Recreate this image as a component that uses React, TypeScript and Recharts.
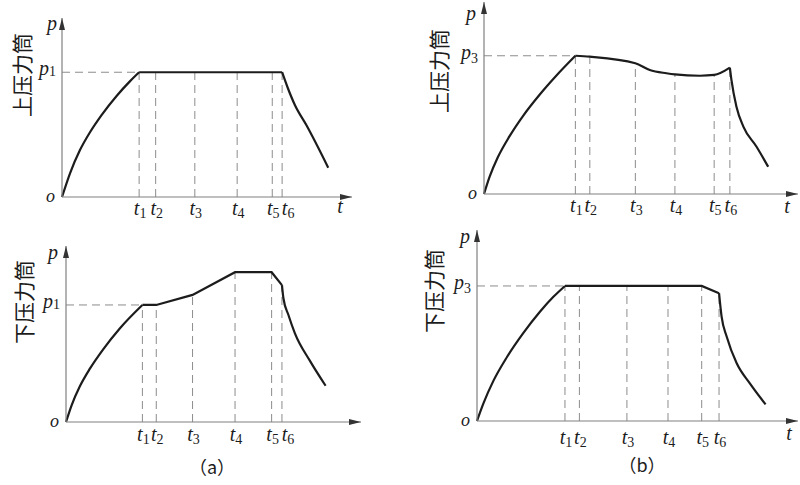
import { LineChart, Line, XAxis, YAxis, ReferenceLine, ReferenceDot } from "recharts";

// pressure curves, time and pressure in % of the axis length (arrow tip = 100)

// (a) 上压力筒
const aUpTime = [0, 2.8, 6.2, 9.7, 13.7, 18.9, 23.4, 77.7, 80.3, 84.4, 91.8];
const aUpPressure = [0, 13.4, 26.2, 36.3, 45.9, 56.6, 64.6, 61.6, 51.4, 39.8, 16.4];
const aUpMarkTime = [26.6, 32.3, 45.8, 60.4, 72.5, 75.9];
const aUpMarkPressure = [69.7, 69.7, 69.7, 69.7, 69.7, 69.7];

// (a) 下压力筒
const aDownTime = [0, 1.9, 4.7, 8.1, 12.6, 18.3, 73.7, 75.4, 77.6, 82.7, 88.0];
const aDownPressure = [0, 9.5, 20.3, 30.3, 41.3, 53.3, 70.3, 60.8, 50.4, 34.7, 20.6];
const aDownMarkTime = [25.9, 30.6, 42.9, 57.3, 69.7, 73.2];
const aDownMarkPressure = [66.5, 66.5, 72.2, 85.1, 85.1, 77.8];

// (b) 上压力筒
const bUpTime = [0, 1.8, 4.4, 8.1, 12.4, 17.7, 23.0, 52.8, 58.1, 68.8, 78.8, 80.4, 82.6, 86.8, 90.5];
const bUpPressure = [0, 9.0, 19.1, 30.0, 40.6, 51.7, 61.6, 64.6, 62.9, 61.6, 59.4, 45.5, 35.1, 24.6, 14.2];
const bUpMarkTime = [29.1, 33.7, 48.2, 60.8, 73.3, 78.3];
const bUpMarkPressure = [72.0, 71.5, 68.1, 62.3, 62.0, 65.8];

// (b) 下压力筒
const bDownTime = [0, 2.0, 5.1, 9.3, 14.4, 19.6, 23.8, 76.2, 77.8, 80.9, 85.0, 89.9];
const bDownPressure = [0, 9.2, 21.0, 33.4, 46.0, 57.2, 65.0, 54.6, 44.1, 30.2, 19.7, 8.7];
const bDownMarkTime = [27.4, 31.9, 46.7, 59.5, 70.0, 75.4];
const bDownMarkPressure = [70.7, 70.7, 70.7, 70.7, 70.7, 66.9];

const SERIF = "'Liberation Serif', 'DejaVu Serif', serif";
const CJK = "'Noto Sans CJK SC', 'Noto Sans CJK JP', sans-serif";
const INK = "#1c1c1c";
const AXIS = "#808080";
const DASH = "#8c8c8c";

type Layout = {
  left: number;
  top: number;
  width: number;
  height: number;
  yw: number;
  mt: number;
  mr: number;
  xh: number;
  titleDx: number;
  titleDy: number;
  pDx: number;
  pDy: number;
  tickDy: number;
  tNameDx?: number;
  tNameDy?: number;
  capDx?: number;
  capDy?: number;
};

const arrowUp = (props: any) => (
  <path d={`M${props.cx},${props.cy} L${props.cx - 3},${props.cy + 12} L${props.cx + 3},${props.cy + 12} Z`} fill="#333" />
);
const arrowRight = (props: any) => (
  <path d={`M${props.cx},${props.cy} L${props.cx - 12},${props.cy - 3} L${props.cx - 12},${props.cy + 3} Z`} fill="#333" />
);

function Panel(props: {
  layout: Layout;
  time: number[];
  pressure: number[];
  markTime: number[];
  markPressure: number[];
  levelSub: string;
  title: string;
  holdCurve: "linear" | "monotone";
  caption?: string;
}) {
  const { layout, time, pressure, markTime, markPressure, levelSub, title, holdCurve, caption } = props;
  const level = markPressure[0];
  const first = markTime[0];
  const last = markTime[markTime.length - 1];
  // split the curve at t1 and t6 so the corners stay sharp
  const data = [
    ...time.map((t, i) => ({ t, p: pressure[i] })),
    ...markTime.map((t, i) => ({ t, p: markPressure[i] })),
  ]
    .sort((a, b) => a.t - b.t)
    .map((d) => ({
      t: d.t,
      rise: d.t <= first ? d.p : null,
      hold: d.t >= first && d.t <= last ? d.p : null,
      fall: d.t >= last ? d.p : null,
    }));

  const xTick = (tp: any) => {
    const i = markTime.indexOf(tp.payload.value);
    const close = i > 0 && markTime[i] - markTime[i - 1] < 4;
    return (
      <text x={tp.x + (close ? 6 : 1)} y={tp.y + layout.tickDy} textAnchor="middle" fontFamily={SERIF} fill={INK}>
        <tspan fontStyle="italic" fontSize={20}>t</tspan>
        <tspan fontSize={14} dy={3}>{i + 1}</tspan>
      </text>
    );
  };

  const yTick = (tp: any) => {
    if (tp.payload.value === 0) {
      return (
        <text x={tp.x - 7} y={tp.y + 5} textAnchor="end" fontFamily={SERIF} fontStyle="italic" fontSize={18} fill={INK}>
          o
        </text>
      );
    }
    return (
      <text x={tp.x - 6} y={tp.y + 3} textAnchor="end" fontFamily={SERIF} fill={INK}>
        <tspan fontStyle="italic" fontSize={20}>p</tspan>
        <tspan fontSize={14} dy={levelSub === "1" ? 1 : 4}>{levelSub}</tspan>
      </text>
    );
  };

  const yLabel = (lp: any) => {
    const vb = lp.viewBox;
    const x0 = vb.x + vb.width;
    return (
      <g>
        <text x={x0 + layout.pDx} y={vb.y + layout.pDy} textAnchor="end" fontFamily={SERIF} fontStyle="italic" fontSize={20} fill={INK}>
          p
        </text>
        <text
          transform={`translate(${x0 + layout.titleDx}, ${vb.y + layout.titleDy}) rotate(-90)`}
          textAnchor="middle"
          dominantBaseline="central"
          fontFamily={CJK}
          fontSize={21}
          fill={INK}
        >
          {title}
        </text>
      </g>
    );
  };

  const xLabel = (lp: any) => {
    const vb = lp.viewBox;
    return (
      <g>
        {layout.tNameDx !== undefined && (
          <text x={vb.x + layout.tNameDx} y={vb.y + (layout.tNameDy ?? 18)} textAnchor="middle" fontFamily={SERIF} fontStyle="italic" fontSize={20} fill={INK}>
            t
          </text>
        )}
        {caption && (
          <text x={vb.x + (layout.capDx ?? 0)} y={vb.y + (layout.capDy ?? 50)} textAnchor="middle" fontFamily={CJK} fontSize={18} fill={INK}>
            {caption}
          </text>
        )}
      </g>
    );
  };

  const lineProps = {
    stroke: INK,
    strokeWidth: 2.2,
    dot: false,
    activeDot: false,
    isAnimationActive: false,
    connectNulls: false,
  };

  return (
    <div style={{ position: "absolute", left: layout.left, top: layout.top }}>
      <LineChart
        width={layout.width}
        height={layout.height}
        data={data}
        margin={{ top: layout.mt, right: layout.mr, bottom: 0, left: 0 }}
      >
        <XAxis
          type="number"
          dataKey="t"
          domain={[0, 100]}
          ticks={markTime}
          interval={0}
          height={layout.xh}
          tickSize={0}
          tickMargin={0}
          tickLine={false}
          axisLine={{ stroke: AXIS, strokeWidth: 1.2 }}
          tick={xTick}
          label={xLabel}
        />
        <YAxis
          type="number"
          domain={[0, 100]}
          ticks={[0, level]}
          width={layout.yw}
          tickSize={0}
          tickMargin={0}
          tickLine={false}
          axisLine={{ stroke: AXIS, strokeWidth: 1.2 }}
          tick={yTick}
          label={yLabel}
        />
        <ReferenceLine
          segment={[{ x: 0, y: level }, { x: first, y: level }]}
          stroke={DASH}
          strokeDasharray="8 5"
        />
        {markTime.map((t, i) => (
          <ReferenceLine
            key={`m-${i}`}
            segment={[{ x: t, y: 0 }, { x: t, y: markPressure[i] }]}
            stroke={DASH}
            strokeDasharray="8 5"
          />
        ))}
        <ReferenceDot x={100} y={0} r={0} shape={arrowRight} />
        <ReferenceDot x={0} y={100} r={0} shape={arrowUp} />
        <Line type="monotone" dataKey="rise" {...lineProps} />
        <Line type={holdCurve} dataKey="hold" {...lineProps} />
        <Line type="monotone" dataKey="fall" {...lineProps} />
      </LineChart>
    </div>
  );
}

const aUpLayout: Layout = {
  left: 0, top: 0, width: 370, height: 230, yw: 62, mt: 18, mr: 18, xh: 33,
  titleDx: -41, titleDy: 57, pDx: -5, pDy: 12, tickDy: 18, tNameDx: 278, tNameDy: 16,
};
const bUpLayout: Layout = {
  left: 400, top: 0, width: 400, height: 230, yw: 84, mt: 2, mr: 2, xh: 36,
  titleDx: -46, titleDy: 69, pDx: -8, pDy: 18, tickDy: 18, tNameDx: 303, tNameDy: 19,
};
const aDownLayout: Layout = {
  left: 0, top: 230, width: 370, height: 255, yw: 66, mt: 16, mr: 9, xh: 63,
  titleDx: -43, titleDy: 56, pDx: -8, pDy: 13, tickDy: 19, capDx: 146, capDy: 52,
};
const bDownLayout: Layout = {
  left: 400, top: 222, width: 400, height: 263, yw: 77, mt: 8, mr: 2, xh: 64,
  titleDx: -44, titleDy: 61, pDx: -7, pDy: 13, tickDy: 23, tNameDx: 312, tNameDy: 19, capDx: 165, capDy: 51,
};

export default function App() {
  return (
    <div style={{ position: "absolute", left: 0, top: 0, width: 800, height: 485, background: "#fff" }}>
      <Panel layout={aUpLayout} time={aUpTime} pressure={aUpPressure} markTime={aUpMarkTime} markPressure={aUpMarkPressure} levelSub="1" title="上压力筒" holdCurve="linear" />
      <Panel layout={bUpLayout} time={bUpTime} pressure={bUpPressure} markTime={bUpMarkTime} markPressure={bUpMarkPressure} levelSub="3" title="上压力筒" holdCurve="monotone" />
      <Panel layout={aDownLayout} time={aDownTime} pressure={aDownPressure} markTime={aDownMarkTime} markPressure={aDownMarkPressure} levelSub="1" title="下压力筒" holdCurve="linear" caption="（a）" />
      <Panel layout={bDownLayout} time={bDownTime} pressure={bDownPressure} markTime={bDownMarkTime} markPressure={bDownMarkPressure} levelSub="3" title="下压力筒" holdCurve="linear" caption="（b）" />
    </div>
  );
}
